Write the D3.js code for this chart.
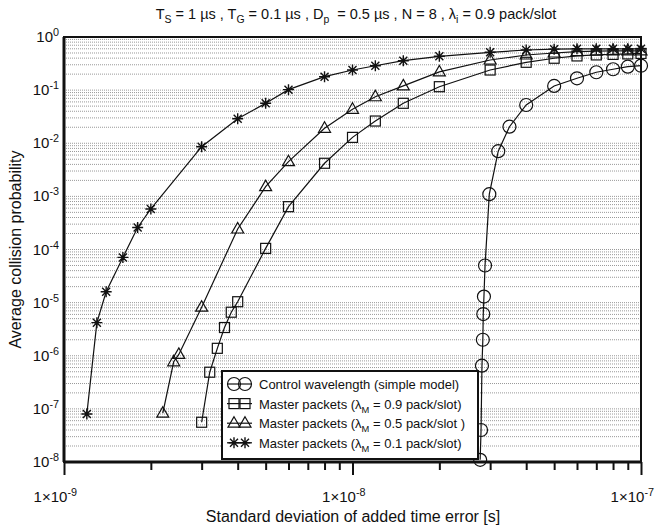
<!DOCTYPE html>
<html>
<head>
<meta charset="utf-8">
<script src="https://cdn.jsdelivr.net/npm/d3@7"></script>
<style>
  body { margin: 0; background: #fff; }
  text { font-family: Arial, "Liberation Sans", sans-serif; fill: #111; }
</style>
</head>
<body>
<svg id="chart" width="665" height="527"></svg>
<script>
// series values (x in seconds)
var circleX = [2.77e-8, 2.79e-8, 2.81e-8, 2.83e-8, 2.84e-8, 2.855e-8, 2.88e-8, 2.98e-8, 3.2e-8, 3.5e-8, 4e-8, 5e-8, 6e-8, 7e-8, 8e-8, 9e-8, 1e-7];
var circleY = [1.1e-8, 4e-8, 6.5e-7, 2.0e-6, 6.1e-6, 1.3e-5, 5e-5, 1.1e-3, 7.1e-3, 2.05e-2, 5.25e-2, 0.12, 0.167, 0.217, 0.247, 0.276, 0.288];

var squareX = [3e-9, 3.2e-9, 3.4e-9, 3.6e-9, 3.8e-9, 4e-9, 5e-9, 6e-9, 8e-9, 1e-8, 1.2e-8, 1.5e-8, 2e-8, 3e-8, 4e-8, 5e-8, 6e-8, 7e-8, 8e-8, 9e-8, 1e-7];
var squareY = [5.6e-8, 4.9e-7, 1.38e-6, 3.4e-6, 6.6e-6, 1.04e-5, 1.05e-4, 6.4e-4, 4.2e-3, 1.29e-2, 2.62e-2, 5.65e-2, 0.116, 0.239, 0.334, 0.398, 0.44, 0.46, 0.47, 0.48, 0.49];

var triangleX = [2.2e-9, 2.4e-9, 2.5e-9, 3e-9, 4e-9, 5e-9, 6e-9, 8e-9, 1e-8, 1.2e-8, 1.5e-8, 2e-8, 3e-8, 4e-8, 5e-8, 6e-8, 7e-8, 8e-8, 9e-8, 1e-7];
var triangleY = [8.3e-8, 7.7e-7, 1.06e-6, 8.2e-6, 2.43e-4, 1.52e-3, 4.5e-3, 1.91e-2, 4.36e-2, 7.5e-2, 0.12, 0.22, 0.369, 0.458, 0.5, 0.53, 0.54, 0.55, 0.55, 0.55];

var starX = [1.2e-9, 1.3e-9, 1.4e-9, 1.6e-9, 1.8e-9, 2e-9, 3e-9, 4e-9, 5e-9, 6e-9, 8e-9, 1e-8, 1.2e-8, 1.5e-8, 2e-8, 3e-8, 4e-8, 5e-8, 6e-8, 7e-8, 8e-8, 9e-8, 1e-7];
var starY = [8e-8, 4.2e-6, 1.6e-5, 7.1e-5, 2.6e-4, 5.8e-4, 8.6e-3, 2.9e-2, 5.65e-2, 0.102, 0.179, 0.239, 0.288, 0.358, 0.433, 0.515, 0.569, 0.59, 0.6, 0.6, 0.6, 0.6, 0.6];

var xMajor = [1e-9, 1e-8, 1e-7];
var xMajorExp = ["-9", "-8", "-7"];
var yMajor = [1, 1e-1, 1e-2, 1e-3, 1e-4, 1e-5, 1e-6, 1e-7, 1e-8];
var yMajorExp = ["0", "-1", "-2", "-3", "-4", "-5", "-6", "-7", "-8"];

var legendNames = [
  [{t: "Control wavelength (simple model)"}],
  [{t: "Master packets ("}, {t: "\u03bb"}, {t: "M", sub: true}, {t: " = 0.9 pack/slot)"}],
  [{t: "Master packets ("}, {t: "\u03bb"}, {t: "M", sub: true}, {t: " = 0.5 pack/slot )"}],
  [{t: "Master packets ("}, {t: "\u03bb"}, {t: "M", sub: true}, {t: " = 0.1 pack/slot)"}]
];
var legendTypes = ["circle", "square", "triangle", "star"];

var svg = d3.select("#chart");
var plotL = 64, plotR = 641, plotT = 37, plotB = 462;

var x = d3.scaleLog().domain([1e-9, 1e-7]).range([plotL, plotR]);
var y = d3.scaleLog().domain([1e-8, 1]).range([plotB, plotT]);

// writes text made of plain / sub / sup pieces
function richText(sel, parts, size) {
  var shift = 0;
  parts.forEach(function (p) {
    var want = p.sub ? 4 : (p.sup ? -6 : 0);
    var ts = sel.append("tspan").attr("dy", want - shift).text(p.t);
    if (p.sub || p.sup) ts.style("font-size", (size * 0.72) + "px");
    if (p.gap) ts.attr("dx", p.gap);
    shift = want;
  });
}

// grid lines on every minor decade value
var gridVals = [];
for (var k = -8; k < 0; k++) {
  for (var m = 1; m <= 9; m++) gridVals.push(m * Math.pow(10, k));
}
svg.append("g").selectAll("line")
  .data(gridVals.filter(function (v) { return v > 1e-8; }))
  .enter().append("line")
  .attr("x1", plotL).attr("x2", plotR)
  .attr("y1", function (d) { return y(d); })
  .attr("y2", function (d) { return y(d); })
  .attr("stroke", "#999")
  .attr("stroke-width", 1)
  .attr("stroke-dasharray", "1,1");

// x ticks: minor then major
var xMinor = [];
for (var e = -9; e < -7; e++) {
  for (var n = 2; n <= 9; n++) xMinor.push(n * Math.pow(10, e));
}
var xMinorAxis = svg.append("g")
  .attr("transform", "translate(0," + plotB + ")")
  .call(d3.axisBottom(x).tickValues(xMinor).tickSize(8).tickFormat(""));
var xMajorAxis = svg.append("g")
  .attr("transform", "translate(0," + plotB + ")")
  .call(d3.axisBottom(x).tickValues(xMajor).tickSize(13).tickFormat(""));
[xMinorAxis, xMajorAxis].forEach(function (a) {
  a.select(".domain").remove();
  a.selectAll("line").attr("stroke", "#111").attr("stroke-width", 2);
});

xMajor.forEach(function (v, i) {
  var t = svg.append("text")
    .attr("x", x(v) + 13).attr("y", 502)
    .attr("text-anchor", "end")
    .style("font-size", "15px");
  richText(t, [{t: "1\u00d710"}, {t: xMajorExp[i], sup: true}], 15);
});

// y labels (no ticks on the left)
var yAxis = svg.append("g")
  .attr("transform", "translate(" + plotL + ",0)")
  .call(d3.axisLeft(y).tickValues(yMajor).tickSize(0).tickFormat(""));
yAxis.select(".domain").remove();
yMajor.forEach(function (v, i) {
  var t = svg.append("text")
    .attr("x", 59).attr("y", y(v) + 5)
    .attr("text-anchor", "end")
    .style("font-size", "15px");
  richText(t, [{t: "10"}, {t: yMajorExp[i], sup: true}], 15);
});

// frame
svg.append("rect")
  .attr("x", plotL).attr("y", plotT)
  .attr("width", plotR - plotL).attr("height", plotB - plotT)
  .attr("fill", "none").attr("stroke", "#111").attr("stroke-width", 2);
svg.append("line").attr("x1", plotL).attr("x2", plotL).attr("y1", plotT).attr("y2", plotB)
  .attr("stroke", "#111").attr("stroke-width", 3);
svg.append("line").attr("x1", plotL).attr("x2", plotR).attr("y1", plotB).attr("y2", plotB)
  .attr("stroke", "#111").attr("stroke-width", 3);

function drawMarker(g, type, cx, cy) {
  var s = g.append("g").attr("transform", "translate(" + cx + "," + cy + ")")
    .attr("fill", "none").attr("stroke", "#111").attr("stroke-width", 1.2);
  if (type == "circle") {
    s.append("circle").attr("r", 6.5);
  } else if (type == "square") {
    s.append("rect").attr("x", -5).attr("y", -5).attr("width", 10).attr("height", 10);
  } else if (type == "triangle") {
    s.append("path").attr("d", "M0,-6.5L6,4L-6,4Z");
  } else {
    var r = 5.5, q = 4;
    s.append("path")
      .attr("d", "M0,-" + r + "L0," + r + "M-" + r + ",0L" + r + ",0M-" + q + ",-" + q + "L" + q + "," + q + "M-" + q + "," + q + "L" + q + ",-" + q)
      .attr("stroke-width", 1.4);
  }
}

var series = [
  {type: "circle", xs: circleX, ys: circleY},
  {type: "square", xs: squareX, ys: squareY},
  {type: "triangle", xs: triangleX, ys: triangleY},
  {type: "star", xs: starX, ys: starY}
];

var line = d3.line()
  .x(function (d) { return x(d[0]); })
  .y(function (d) { return y(d[1]); });

series.forEach(function (s) {
  var pts = d3.zip(s.xs, s.ys);
  svg.append("path")
    .datum(pts)
    .attr("d", line)
    .attr("fill", "none")
    .attr("stroke", "#111")
    .attr("stroke-width", 1.2);
  var g = svg.append("g");
  pts.forEach(function (p) { drawMarker(g, s.type, x(p[0]), y(p[1])); });
});

// legend
var lg = svg.append("g");
lg.append("rect")
  .attr("x", 222).attr("y", 371).attr("width", 256).attr("height", 88)
  .attr("fill", "#fff").attr("stroke", "#111").attr("stroke-width", 2);
legendNames.forEach(function (parts, i) {
  var cy = 384 + i * 19.6;
  lg.append("line").attr("x1", 227).attr("x2", 252).attr("y1", cy).attr("y2", cy)
    .attr("stroke", "#111").attr("stroke-width", 1.2);
  drawMarker(lg, legendTypes[i], 234, cy);
  drawMarker(lg, legendTypes[i], 245, cy);
  var t = lg.append("text").attr("x", 259).attr("y", cy + 5).style("font-size", "13px");
  richText(t, parts, 13);
});

// title and axis titles
var title = svg.append("text")
  .attr("x", 356).attr("y", 19)
  .attr("text-anchor", "middle")
  .style("font-size", "14.5px");
richText(title, [
  {t: "T"}, {t: "S", sub: true}, {t: " = 1 \u00b5s , T"}, {t: "G", sub: true},
  {t: " = 0.1 \u00b5s , D"}, {t: "p", sub: true}, {t: " = 0.5 \u00b5s , N = 8 , \u03bb", gap: 4},
  {t: "i", sub: true}, {t: " = 0.9 pack/slot"}
], 14.5);

svg.append("text")
  .attr("x", 353).attr("y", 522)
  .attr("text-anchor", "middle")
  .style("font-size", "16px")
  .text("Standard deviation of added time error [s]");

svg.append("text")
  .attr("transform", "translate(21," + ((plotT + plotB) / 2) + ") rotate(-90)")
  .attr("text-anchor", "middle")
  .style("font-size", "16px")
  .text("Average collision probability");
</script>
</body>
</html>
